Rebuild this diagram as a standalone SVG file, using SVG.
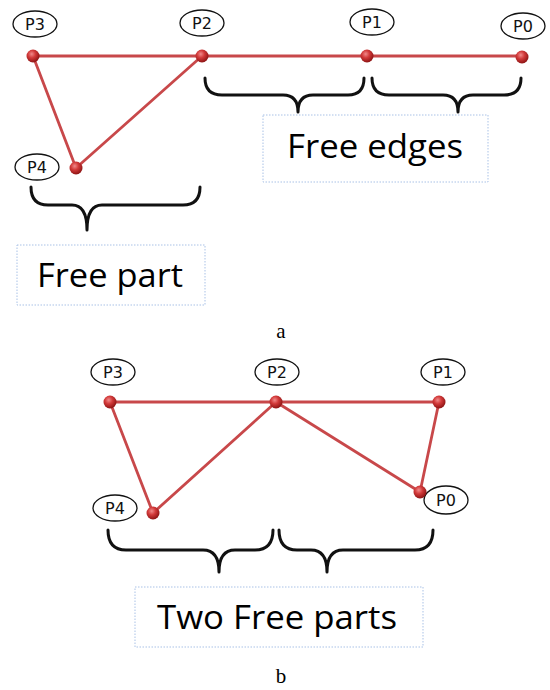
<svg xmlns="http://www.w3.org/2000/svg" width="550" height="690" viewBox="0 0 550 690">
<style>
.edge{stroke:#c8484a;stroke-width:2.8;fill:none;stroke-linecap:round}
.dot{fill:url(#ball)}
.lab{fill:#fff;stroke:#111;stroke-width:1.3}
.lt{font-family:"DejaVu Sans",sans-serif;font-size:16px;fill:#111;text-anchor:middle}
.brace{fill:none;stroke:#111;stroke-width:3;stroke-linecap:round;stroke-linejoin:round}
.box{fill:#fff;stroke:#a9c1e6;stroke-width:1;stroke-dasharray:1.5 1.5}
.big{font-family:"Open Sans","Noto Sans",sans-serif;font-size:33px;fill:#000}
.cap{font-family:"Liberation Serif",serif;font-size:21px;fill:#000;text-anchor:middle}
</style>
<defs>
<radialGradient id="ball" cx="0.4" cy="0.35" r="0.65">
<stop offset="0" stop-color="#f08a8a"/>
<stop offset="0.45" stop-color="#d23a3a"/>
<stop offset="1" stop-color="#8e1414"/>
</radialGradient>
</defs>
<g id="connectors">
<line class="edge" x1="33" y1="56" x2="522" y2="56"/>
<line class="edge" x1="33" y1="56" x2="76" y2="168"/>
<line class="edge" x1="76" y1="168" x2="202" y2="56"/>
<line class="edge" x1="110" y1="402" x2="439" y2="402"/>
<line class="edge" x1="110" y1="402" x2="153" y2="513"/>
<line class="edge" x1="153" y1="513" x2="276" y2="402"/>
<line class="edge" x1="276" y1="402" x2="420" y2="492"/>
<line class="edge" x1="420" y1="492" x2="439" y2="402"/>
</g>
<g id="a-P3"><ellipse class="lab" cx="35" cy="24" rx="22" ry="13"/><text class="lt" x="35" y="30">P3</text><circle class="dot" cx="33" cy="56" r="6.5"/></g>
<g id="a-P2"><ellipse class="lab" cx="202" cy="23" rx="22" ry="13"/><text class="lt" x="202" y="29">P2</text><circle class="dot" cx="202" cy="56" r="6.5"/></g>
<g id="a-P1"><ellipse class="lab" cx="372" cy="22" rx="22" ry="13"/><text class="lt" x="372" y="28">P1</text><circle class="dot" cx="367" cy="56" r="6.5"/></g>
<g id="a-P0"><ellipse class="lab" cx="523" cy="26" rx="22" ry="13"/><text class="lt" x="523" y="32">P0</text><circle class="dot" cx="522" cy="57" r="6.5"/></g>
<g id="a-P4"><ellipse class="lab" cx="37" cy="167" rx="22" ry="13"/><text class="lt" x="37" y="173">P4</text><circle class="dot" cx="76" cy="168" r="6.5"/></g>
<g id="a-braces">
<path class="brace" d="M205,78 Q205,95 222,95 L283,95 Q298,95 298,112 Q298,95 313,95 L348,95 Q364,95 364,78"/>
<path class="brace" d="M372,78 Q372,95 389,95 L443,95 Q458,95 458,112 Q458,95 473,95 L504,95 Q521,95 521,78"/>
<path class="brace" d="M31,187 Q31,205 48,205 L72,205 Q87,205 87,230 Q87,205 102,205 L183,205 Q200,205 200,187"/>
</g>
<g id="a-free-edges"><rect class="box" x="263" y="115" width="225" height="67"/><text class="big" x="287" y="158" textLength="176" lengthAdjust="spacingAndGlyphs">Free edges</text></g>
<g id="a-free-part"><rect class="box" x="17" y="245" width="188" height="60"/><text class="big" x="37" y="287" textLength="146" lengthAdjust="spacingAndGlyphs">Free part</text></g>
<text class="cap" x="281" y="338">a</text>
<g id="b-P3"><ellipse class="lab" cx="113" cy="372" rx="22" ry="13"/><text class="lt" x="113" y="378">P3</text><circle class="dot" cx="110" cy="402" r="6.5"/></g>
<g id="b-P2"><ellipse class="lab" cx="277" cy="372" rx="22" ry="13"/><text class="lt" x="277" y="378">P2</text><circle class="dot" cx="276" cy="402" r="6.5"/></g>
<g id="b-P1"><ellipse class="lab" cx="443" cy="372" rx="22" ry="13"/><text class="lt" x="443" y="378">P1</text><circle class="dot" cx="439" cy="402" r="6.5"/></g>
<g id="b-P0"><ellipse class="lab" cx="446" cy="500" rx="22" ry="14"/><text class="lt" x="446" y="506">P0</text><circle class="dot" cx="420" cy="492" r="6.5"/></g>
<g id="b-P4"><ellipse class="lab" cx="115" cy="508" rx="22" ry="13"/><text class="lt" x="115" y="514">P4</text><circle class="dot" cx="153" cy="513" r="6.5"/></g>
<g id="b-braces">
<path class="brace" d="M108,530 Q108,550 126,550 L203,550 Q219,550 219,572 Q219,550 235,550 L255,550 Q273,550 273,530"/>
<path class="brace" d="M279,530 Q279,550 297,550 L311,550 Q327,550 327,572 Q327,550 343,550 L415,550 Q433,550 433,530"/>
</g>
<g id="b-two-free-parts"><rect class="box" x="135" y="587" width="288" height="60"/><text class="big" x="157" y="629" textLength="240" lengthAdjust="spacingAndGlyphs">Two Free parts</text></g>
<text class="cap" x="281" y="683">b</text>
</svg>
